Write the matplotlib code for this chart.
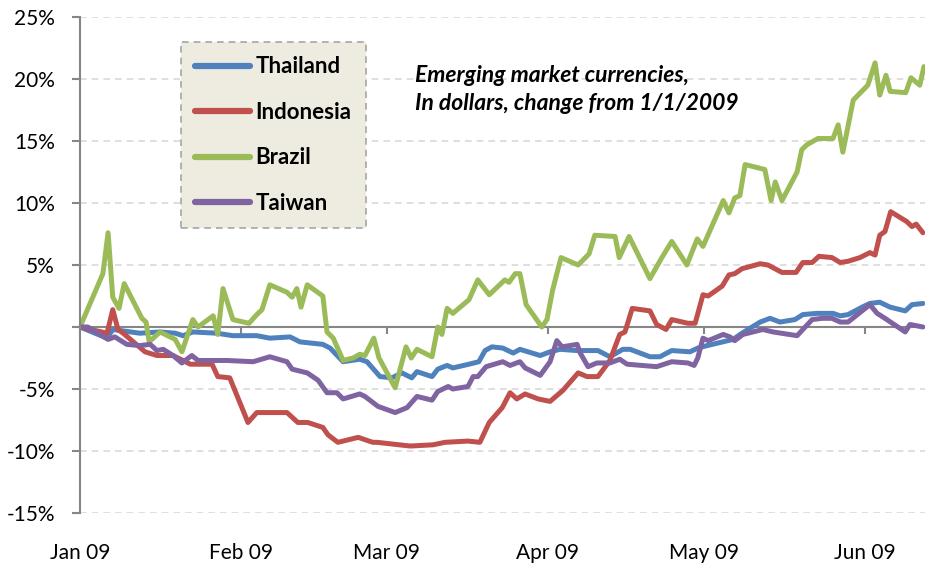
import numpy as np
import matplotlib
matplotlib.use('Agg')
import matplotlib.pyplot as plt
import matplotlib.dates as mdates

plt.rcParams['font.family'] = ['Lato', 'DejaVu Sans']

# days since 1/1/2009 and % change
brazil_days = [0.0, 4.4, 5.4, 6.3, 7.5, 8.5, 11.9, 12.7, 13.3, 15.4, 18.3, 19.6, 21.7, 22.7,
               25.6, 26.5, 27.5, 29.4, 32.5, 34.0, 35.0, 36.5, 39.8, 40.8, 41.7, 42.5, 43.7,
               46.7, 47.5, 48.7, 50.6, 52.5, 53.8, 54.8, 56.5, 57.5, 60.6, 62.7, 63.7, 64.8,
               67.7, 68.8, 69.6, 70.6, 71.7, 74.8, 76.5, 78.7, 81.7, 82.5, 83.7, 84.6, 85.8,
               88.8, 89.8, 90.9, 92.5, 95.8, 97.9, 99.0, 102.9, 103.7, 105.6, 109.6, 111.9,
               113.8, 116.7, 118.7, 119.8, 123.7, 124.8, 125.9, 126.9, 127.9, 131.7, 132.9,
               133.7, 135.0, 137.9, 138.8, 139.8, 141.9, 144.8, 145.8, 146.7, 148.7, 151.5,
               152.9, 153.8, 155.0, 155.8, 158.8, 159.8, 161.5, 162.3]
brazil = [0.0, 4.3, 7.6, 2.4, 1.5, 3.5, 0.7, 0.4, -1.2, -0.4, -1.0, -2.0, 0.6, 0.0,
          0.9, -0.6, 3.1, 0.6, 0.3, 1.0, 1.4, 3.4, 2.8, 2.4, 3.1, 1.6, 3.4,
          2.5, -0.4, -0.9, -2.7, -2.5, -2.2, -2.3, -0.9, -2.5, -4.9, -1.6, -2.5, -1.8,
          -2.4, 0.0, -0.6, 1.5, 1.1, 2.2, 3.8, 2.6, 3.8, 3.6, 4.3, 4.3, 1.8,
          0.0, 0.6, 3.0, 5.6, 5.0, 5.9, 7.4, 7.3, 5.6, 7.3, 3.9, 5.6,
          6.9, 5.0, 7.1, 6.5, 10.2, 9.2, 10.4, 10.6, 13.1, 12.7, 10.2,
          11.7, 10.2, 12.5, 14.3, 14.7, 15.2, 15.2, 16.3, 14.1, 18.3, 19.5,
          21.3, 18.7, 20.3, 19.0, 18.9, 20.1, 19.5, 21.0]

indonesia_days = [0.0, 5.2, 6.3, 7.3, 8.3, 12.5, 14.8, 17.9, 21.2, 25.4, 26.5, 28.8, 32.3,
                  34.0, 39.8, 41.9, 43.8, 46.7, 47.7, 49.6, 53.5, 56.3, 57.1, 63.5, 67.9,
                  70.2, 74.6, 76.9, 78.7, 81.2, 82.7, 84.0, 85.6, 88.1, 90.4, 92.9, 95.8,
                  97.5, 99.6, 101.9, 103.8, 104.8, 106.2, 109.6, 110.9, 112.7, 113.8, 116.9,
                  118.3, 119.8, 120.8, 123.5, 124.8, 125.9, 127.3, 130.8, 132.3, 135.0,
                  137.7, 139.0, 140.8, 142.1, 144.6, 146.2, 147.7, 150.0, 151.9, 152.9,
                  153.8, 154.8, 155.9, 159.0, 160.0, 160.8, 162.1]
indonesia = [0.0, -0.5, 1.4, -0.2, -0.5, -2.0, -2.3, -2.3, -3.0, -3.0, -4.0, -4.1, -7.7,
             -6.9, -6.9, -7.7, -7.7, -8.1, -8.7, -9.3, -8.9, -9.3, -9.3, -9.6, -9.5,
             -9.3, -9.2, -9.3, -7.7, -6.5, -5.3, -5.8, -5.4, -5.8, -6.0, -5.1, -3.7,
             -4.0, -4.0, -2.7, -0.6, -0.4, 1.5, 1.3, 0.2, -0.2, 0.6, 0.3,
             0.3, 2.6, 2.5, 3.3, 4.2, 4.3, 4.7, 5.1, 5.0, 4.4,
             4.4, 5.2, 5.2, 5.7, 5.6, 5.2, 5.3, 5.6, 6.0, 5.8,
             7.4, 7.7, 9.3, 8.5, 8.1, 8.3, 7.6]

thailand_days = [0.0, 5.2, 6.3, 11.5, 15.4, 18.3, 19.8, 21.7, 26.3, 29.4, 34.0, 36.5, 40.4,
                 42.3, 46.7, 48.1, 50.6, 53.8, 55.2, 57.7, 60.0, 61.9, 63.8, 64.8, 67.7,
                 68.8, 70.6, 71.7, 74.8, 76.7, 77.9, 79.2, 81.3, 83.3, 84.6, 88.5, 90.4,
                 92.3, 95.6, 99.6, 101.9, 104.4, 105.8, 109.6, 111.5, 113.8, 117.3, 118.8,
                 120.6, 125.6, 127.3, 130.8, 132.7, 134.6, 137.5, 139.0, 141.7, 144.8,
                 146.2, 147.7, 150.4, 151.9, 153.8, 155.8, 158.7, 160.0, 162.1]
thailand = [0.0, -0.9, -0.2, -0.5, -0.4, -0.5, -0.7, -0.4, -0.5, -0.7, -0.7, -0.9, -0.8,
            -1.2, -1.4, -1.7, -2.8, -2.6, -2.8, -4.0, -4.1, -3.7, -4.1, -3.6, -4.0,
            -3.4, -3.1, -3.3, -3.0, -2.8, -1.9, -1.6, -1.7, -2.1, -1.8, -2.3, -2.0,
            -1.8, -1.9, -1.9, -2.4, -1.8, -1.8, -2.4, -2.4, -1.9, -2.0, -1.7,
            -1.5, -1.0, -0.5, 0.4, 0.7, 0.4, 0.6, 1.0, 1.1, 1.1,
            0.9, 1.0, 1.6, 1.9, 2.0, 1.6, 1.3, 1.8, 1.9]

taiwan_days = [0.0, 1.5, 5.4, 6.7, 9.0, 11.5, 13.5, 14.8, 16.0, 17.9, 19.6, 21.5, 22.7,
               28.3, 33.3, 36.5, 39.8, 40.8, 43.7, 45.8, 47.5, 49.4, 50.6, 53.8, 54.8,
               57.3, 60.6, 62.9, 64.8, 67.7, 68.8, 70.8, 71.7, 74.6, 75.6, 76.5, 78.1,
               81.3, 82.7, 84.6, 85.6, 88.5, 90.4, 91.7, 92.7, 95.6, 96.2, 97.7, 99.4,
               101.9, 103.8, 105.2, 110.9, 113.8, 116.9, 118.1, 118.8, 119.8, 120.8,
               123.7, 125.0, 125.9, 127.5, 131.3, 133.3, 137.9, 140.8, 142.7, 144.6,
               146.2, 147.7, 151.9, 153.3, 154.8, 158.7, 159.6, 160.9, 162.1]
taiwan = [0.0, 0.0, -1.0, -0.8, -1.4, -1.5, -1.4, -1.9, -1.8, -2.3, -2.9, -2.3, -2.7,
          -2.7, -2.8, -2.4, -2.8, -3.4, -3.7, -4.3, -5.3, -5.3, -5.8, -5.4, -5.6,
          -6.4, -6.9, -6.5, -5.6, -5.9, -5.2, -4.8, -5.0, -4.8, -4.0, -4.0, -3.2,
          -2.8, -3.1, -2.8, -3.3, -3.9, -2.8, -1.1, -1.6, -1.4, -2.1, -3.2, -2.9,
          -2.9, -2.6, -3.0, -3.2, -2.8, -2.9, -3.1, -2.5, -0.9, -1.1,
          -0.6, -0.8, -1.1, -0.6, -0.2, -0.4, -0.7, 0.6, 0.7, 0.7,
          0.4, 0.4, 1.8, 1.1, 0.7, -0.4, 0.2, 0.1, 0.0]

series = [('Thailand', thailand_days, thailand, '#4F81BD'),
          ('Indonesia', indonesia_days, indonesia, '#C0504D'),
          ('Brazil', brazil_days, brazil, '#9BBB59'),
          ('Taiwan', taiwan_days, taiwan, '#8064A2')]

start = mdates.datestr2num('2009-01-01')

fig = plt.figure(figsize=(9.25, 5.64), dpi=100)
ax = fig.add_axes([80/925, 1-513/564, 845/925, 496/564])

for name, d, v, c in series:
    ax.plot(start + np.array(d), v, color=c, lw=3.6, label=name,
            solid_joinstyle='round', solid_capstyle='round')

ax.set_ylim(-15, 25)
ax.set_xlim(start, start + 162.5)
ax.set_yticks(range(-15, 26, 5))
ax.set_yticklabels([('%d%%' % t) if t != 0 else '' for t in range(-15, 26, 5)])
for t in range(-15, 26, 5):
    if t != 0:
        ax.axhline(t, color='#D9D9D9', lw=1.2, ls=(0, (4, 3)), zorder=0)

for s in ['top', 'right']:
    ax.spines[s].set_visible(False)
ax.spines['left'].set_color('#868686')
ax.spines['left'].set_linewidth(1.5)
ax.spines['bottom'].set_position(('data', 0))
ax.spines['bottom'].set_color('#868686')
ax.spines['bottom'].set_linewidth(1.5)
ax.spines['bottom'].set_zorder(1)

ax.xaxis.set_major_locator(mdates.MonthLocator())
ax.tick_params(axis='x', direction='out', length=5, width=1.5, color='#868686', labelbottom=False)
ax.tick_params(axis='y', direction='out', length=6, width=1.5, color='#868686', labelsize=15, pad=12)

sec = ax.secondary_xaxis(-0.05)
sec.xaxis.set_major_locator(mdates.MonthLocator())
sec.xaxis.set_major_formatter(mdates.DateFormatter('%b %y'))
sec.tick_params(length=0, labelsize=15)
sec.spines['bottom'].set_visible(False)

leg = ax.legend(loc='upper left', bbox_to_anchor=(101/845, 1-25/496), borderaxespad=0,
                fancybox=False, framealpha=1, facecolor='#EEECE1', edgecolor='#A6A6A6',
                prop={'weight': 'bold', 'size': 16}, handlelength=2.45, handletextpad=0.25,
                labelspacing=1.1, borderpad=0.65)
leg.get_frame().set_linestyle((0, (4, 3)))
leg.get_frame().set_linewidth(1.2)
for line in leg.get_lines():
    line.set_linewidth(4.5)

fig.text(415/925, 1-75/564, 'Emerging market currencies,', fontsize=16.5, style='italic',
         weight='bold', va='center', ha='left')
fig.text(415/925, 1-104/564, 'In dollars, change from 1/1/2009', fontsize=16.5, style='italic',
         weight='bold', va='center', ha='left')

fig.savefig('out.png', dpi=100)
